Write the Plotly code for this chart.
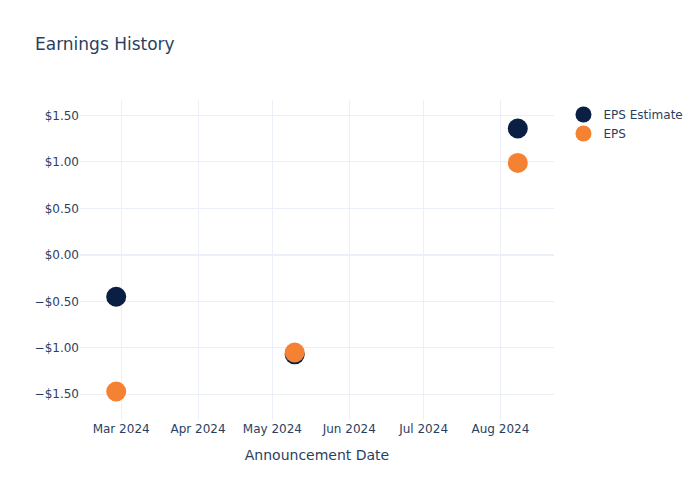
import plotly.graph_objects as go

dates = ["2024-02-28", "2024-05-10", "2024-08-08"]
eps_estimate = [-0.45, -1.07, 1.36]
eps_actual = [-1.47, -1.05, 0.99]

fig = go.Figure()
fig.add_trace(go.Scatter(x=dates, y=eps_estimate, mode="markers", name="EPS Estimate",
                         marker=dict(color="#0b1f44", size=20)))
fig.add_trace(go.Scatter(x=dates, y=eps_actual, mode="markers", name="EPS",
                         marker=dict(color="#f58233", size=20)))
fig.update_layout(
    template="plotly_white",
    width=700, height=500,
    font=dict(family="DejaVu Sans"),
    title=dict(text="Earnings History"),
    xaxis=dict(title="Announcement Date", tickformat="%b %Y", dtick="M1"),
    yaxis=dict(tickformat="$.2f"),
)
fig.write_html("out.html")
